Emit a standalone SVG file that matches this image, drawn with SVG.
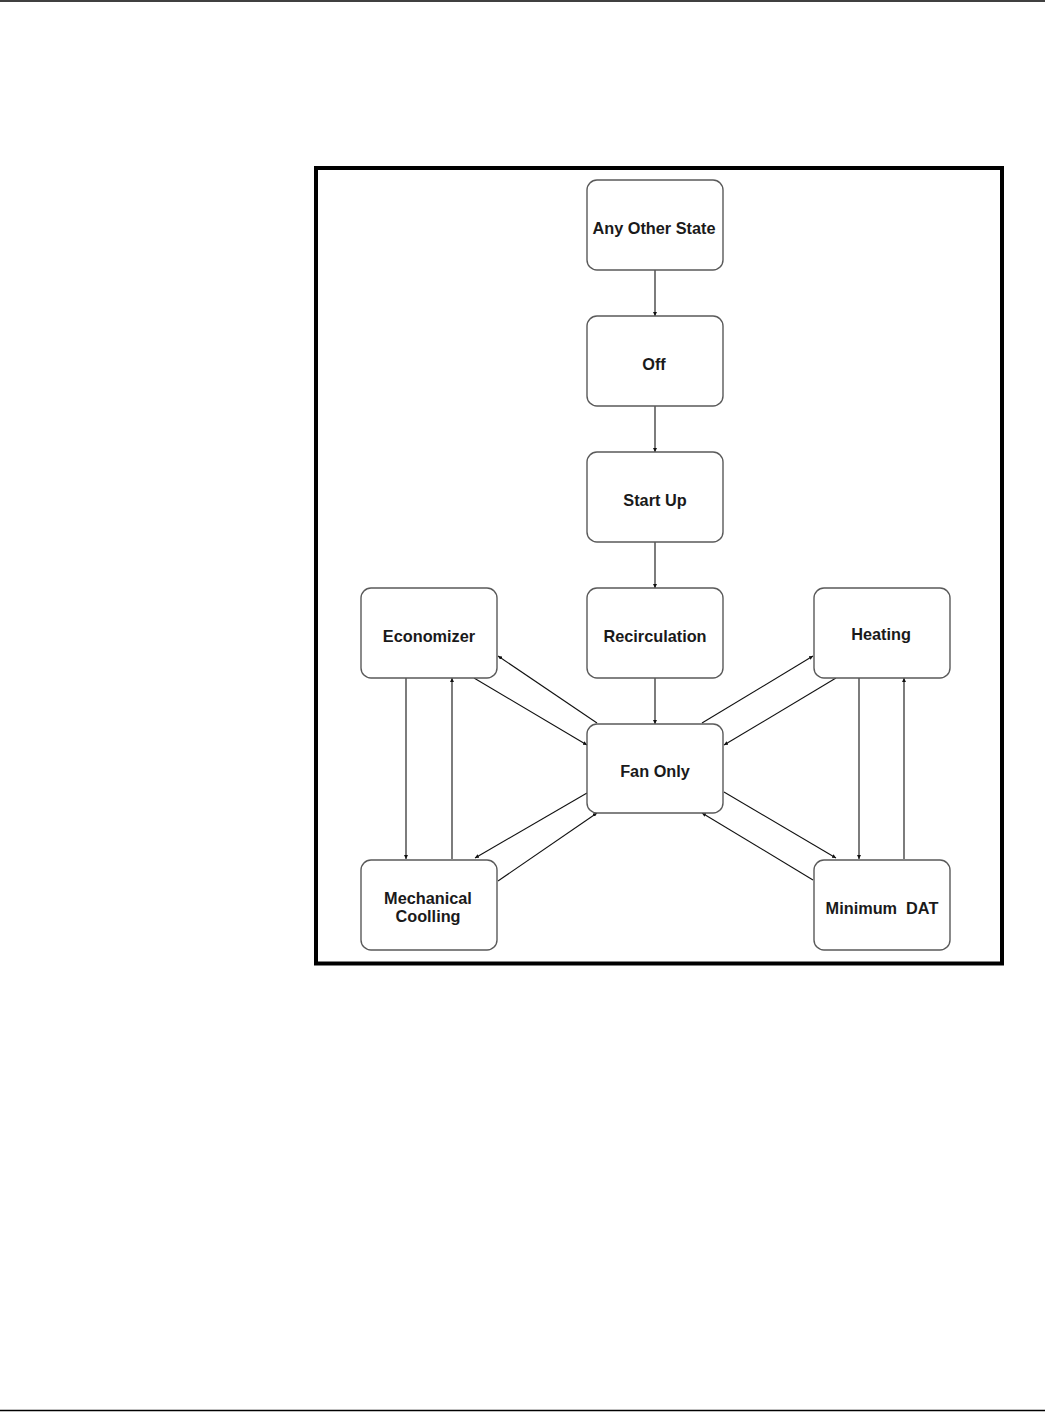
<svg xmlns="http://www.w3.org/2000/svg" width="1045" height="1412" viewBox="0 0 1045 1412">
<style>
.box{fill:#fff;stroke:#5a5a5a;stroke-width:1.4}
.lbl{font-family:"Liberation Sans",Arial,sans-serif;font-weight:bold;font-size:16.3px;fill:#1a1a1a;text-anchor:middle}
.c{fill:none;stroke:#111;stroke-width:1.1;marker-end:url(#ah)}
</style>
<defs>
<marker id="ah" viewBox="0 0 6 6" refX="6" refY="3" markerWidth="4" markerHeight="4" markerUnits="userSpaceOnUse" orient="auto">
<path d="M0,0 L6,3 L0,6 Z" fill="#111"/>
</marker>
</defs>
<rect x="0" y="0" width="1045" height="1412" fill="#fff"/>
<line x1="0" y1="1" x2="1045" y2="1" stroke="#000" stroke-width="1.5"/>
<line x1="0" y1="1410.5" x2="1045" y2="1410.5" stroke="#000" stroke-width="1.5"/>
<rect x="316" y="168" width="686" height="795.5" fill="none" stroke="#000" stroke-width="4"/>
<g id="connectors">
<line class="c" x1="655" y1="270" x2="655" y2="316"/>
<line class="c" x1="655" y1="406" x2="655" y2="452"/>
<line class="c" x1="655" y1="542" x2="655" y2="588"/>
<line class="c" x1="655" y1="678" x2="655" y2="724"/>
<line class="c" x1="406" y1="678" x2="406" y2="859"/>
<line class="c" x1="452" y1="859" x2="452" y2="678"/>
<line class="c" x1="597" y1="723" x2="498" y2="656"/>
<line class="c" x1="474" y1="678" x2="587" y2="745"/>
<line class="c" x1="587" y1="793" x2="475" y2="858"/>
<line class="c" x1="498" y1="881" x2="597" y2="813"/>
<line class="c" x1="702" y1="723" x2="813" y2="656"/>
<line class="c" x1="836" y1="678" x2="724" y2="745"/>
<line class="c" x1="859" y1="678" x2="859" y2="859"/>
<line class="c" x1="904" y1="859" x2="904" y2="678"/>
<line class="c" x1="724" y1="792" x2="836" y2="858"/>
<line class="c" x1="813" y1="880" x2="702" y2="813"/>
</g>
<g id="n-any"><rect class="box" x="587" y="180" width="136" height="90" rx="10"/><text class="lbl" x="654" y="234">Any Other State</text></g>
<g id="n-off"><rect class="box" x="587" y="316" width="136" height="90" rx="10"/><text class="lbl" x="654" y="370">Off</text></g>
<g id="n-startup"><rect class="box" x="587" y="452" width="136" height="90" rx="10"/><text class="lbl" x="655" y="506">Start Up</text></g>
<g id="n-recirc"><rect class="box" x="587" y="588" width="136" height="90" rx="10"/><text class="lbl" x="655" y="642">Recirculation</text></g>
<g id="n-fan"><rect class="box" x="587" y="724" width="136" height="89" rx="10"/><text class="lbl" x="655" y="777">Fan Only</text></g>
<g id="n-econ"><rect class="box" x="361" y="588" width="136" height="90" rx="10"/><text class="lbl" x="429" y="642">Economizer</text></g>
<g id="n-mech"><rect class="box" x="361" y="860" width="136" height="90" rx="10"/><text class="lbl" x="428" y="904">Mechanical</text><text class="lbl" x="428" y="922">Coolling</text></g>
<g id="n-heat"><rect class="box" x="814" y="588" width="136" height="90" rx="10"/><text class="lbl" x="881" y="640">Heating</text></g>
<g id="n-mindat"><rect class="box" x="814" y="860" width="136" height="90" rx="10"/><text class="lbl" x="882" y="914" xml:space="preserve" style="white-space:pre">Minimum  DAT</text></g>
</svg>
